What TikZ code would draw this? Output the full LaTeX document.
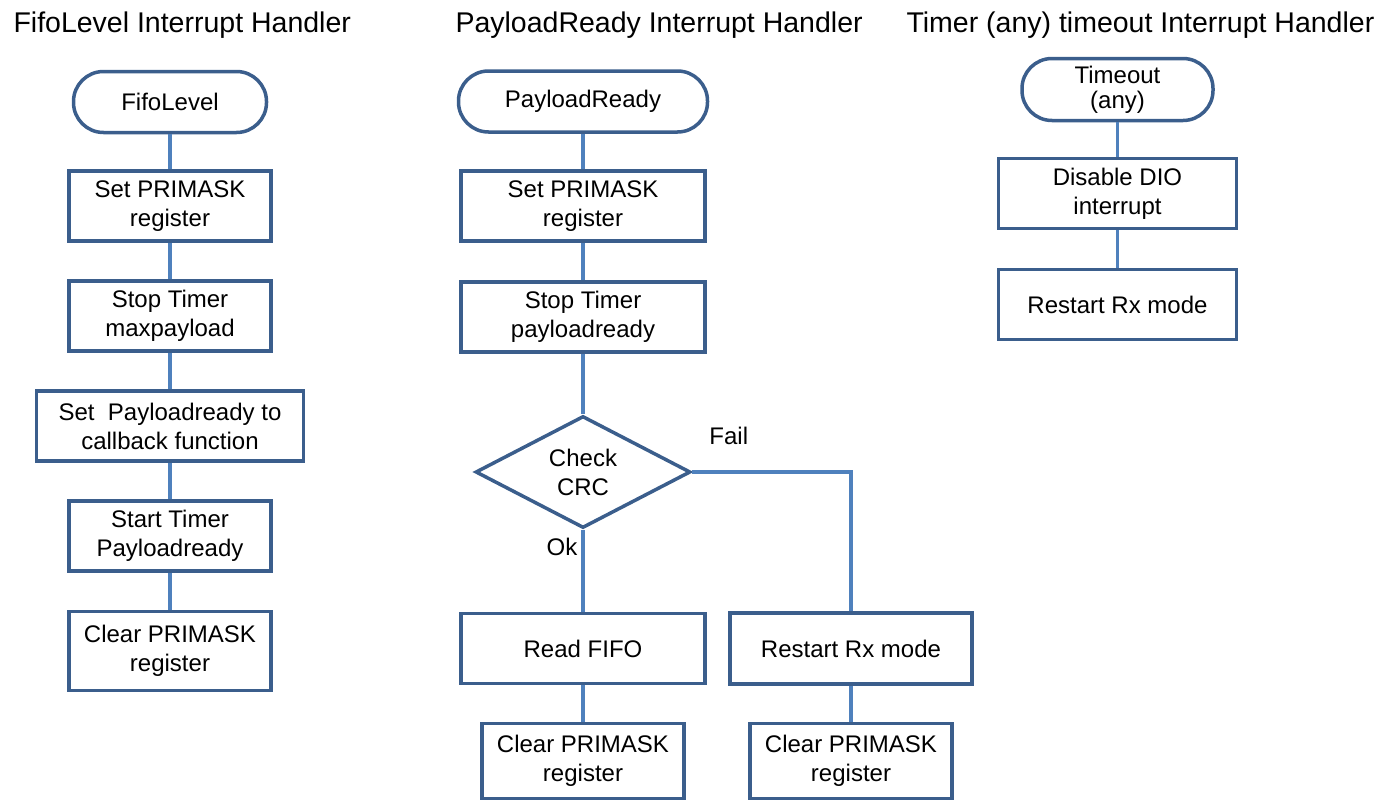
\documentclass[tikz,border=0pt]{standalone}
\usepackage{fontspec}
\setmainfont{Liberation Sans}
\usetikzlibrary{shapes.geometric}
\usepackage{xcolor}
\definecolor{boxline}{HTML}{3B5E8C}
\definecolor{linkline}{HTML}{4F81BD}

\begin{document}
\begin{tikzpicture}[x=1pt,y=-1pt,node distance=110pt,
  every node/.style={font=\fontsize{24pt}{29pt}\selectfont,align=center},
  every edge/.style={draw=linkline,line width=3.5pt},
  box/.style={draw=boxline,line width=3.5pt,rectangle,inner sep=0pt,minimum width=202pt,minimum height=70pt},
  term/.style={box,rounded corners=30pt,minimum height=61pt},
  decision/.style={draw=boxline,line width=3.5pt,diamond,aspect=1.9,inner sep=0pt,minimum width=215pt,minimum height=112pt},
  title/.style={anchor=base west,font=\fontsize{28.5pt}{34pt}\selectfont},
  lbl/.style={inner sep=0pt},
  link/.style={draw=linkline,line width=3.5pt}]
  \useasboundingbox (0,0) rectangle (1389,803);

  \node[title] (t1) at (10,32)  {FifoLevel Interrupt Handler};
  \node[title] (t2) at (452,32) {PayloadReady Interrupt Handler};
  \node[title] (t3) at (903,32) {Timer (any) timeout Interrupt Handler};

  % FifoLevel
  \node[term,minimum width=193pt] (fifo) at (170,102)            {FifoLevel};
  \node[box] (f1) [below of=fifo,node distance=104pt]            {Set PRIMASK\\register};
  \node[box] (f2) [below of=f1]                                  {Stop Timer\\maxpayload};
  \node[box,minimum width=267pt] (f3) [below of=f2]              {Set~ Payloadready to\\callback function};
  \node[box] (f4) [below of=f3]                                  {Start Timer\\Payloadready};
  \node[box,minimum height=79pt] (f5) [below of=f4,node distance=115pt] {Clear PRIMASK\\register};

  % PayloadReady
  \node[term,minimum width=249pt] (prdy) at (583,101.5)         {PayloadReady};
  \node[box,minimum width=244pt] (p1) [below of=prdy,node distance=104.5pt] {Set PRIMASK\\register};
  \node[box,minimum width=244pt] (p2) [below of=p1,node distance=111pt]     {Stop Timer\\payloadready};
  \node[decision] (crc) [below of=p2,node distance=155pt]                   {Check\\CRC};
  \node[box,minimum width=244pt] (rfifo) [below of=crc,node distance=176.5pt] {Read FIFO};
  \node[box,minimum width=242pt,minimum height=71pt] (rrx) [right of=rfifo,node distance=268pt] {Restart Rx mode};
  \node[box,minimum height=75pt] (pclr) [below of=rfifo,node distance=112.5pt] {Clear PRIMASK\\register};
  \node[box,minimum height=75pt] (fclr) [below of=rrx,node distance=112.5pt]   {Clear PRIMASK\\register};

  % Timer timeout
  \node[term,minimum width=191pt,minimum height=62pt,font=\fontsize{24pt}{25pt}\selectfont] (tout) at (1117.5,89.5) {Timeout\\(any)};
  \node[box,minimum width=238pt] (dio) [below of=tout,node distance=104pt] {Disable DIO\\interrupt};
  \node[box,minimum width=238pt] (rrx2) [below of=dio,node distance=111pt] {Restart Rx mode};

  \path (fifo) edge (f1)
        (f1) edge (f2)
        (f2) edge (f3)
        (f3) edge (f4)
        (f4) edge (f5)
        (prdy) edge (p1)
        (p1) edge (p2)
        (p2) edge (crc)
        (crc) edge node[lbl,pos=0.21,left=4pt] {Ok} (rfifo)
        (rfifo) edge (pclr)
        (rrx) edge (fclr)
        (tout) edge (dio)
        (dio) edge (rrx2);
  \draw[link] (crc.east) -| node[lbl,pos=0.115,above=26pt] {Fail} (rrx.north);
\end{tikzpicture}
\end{document}
